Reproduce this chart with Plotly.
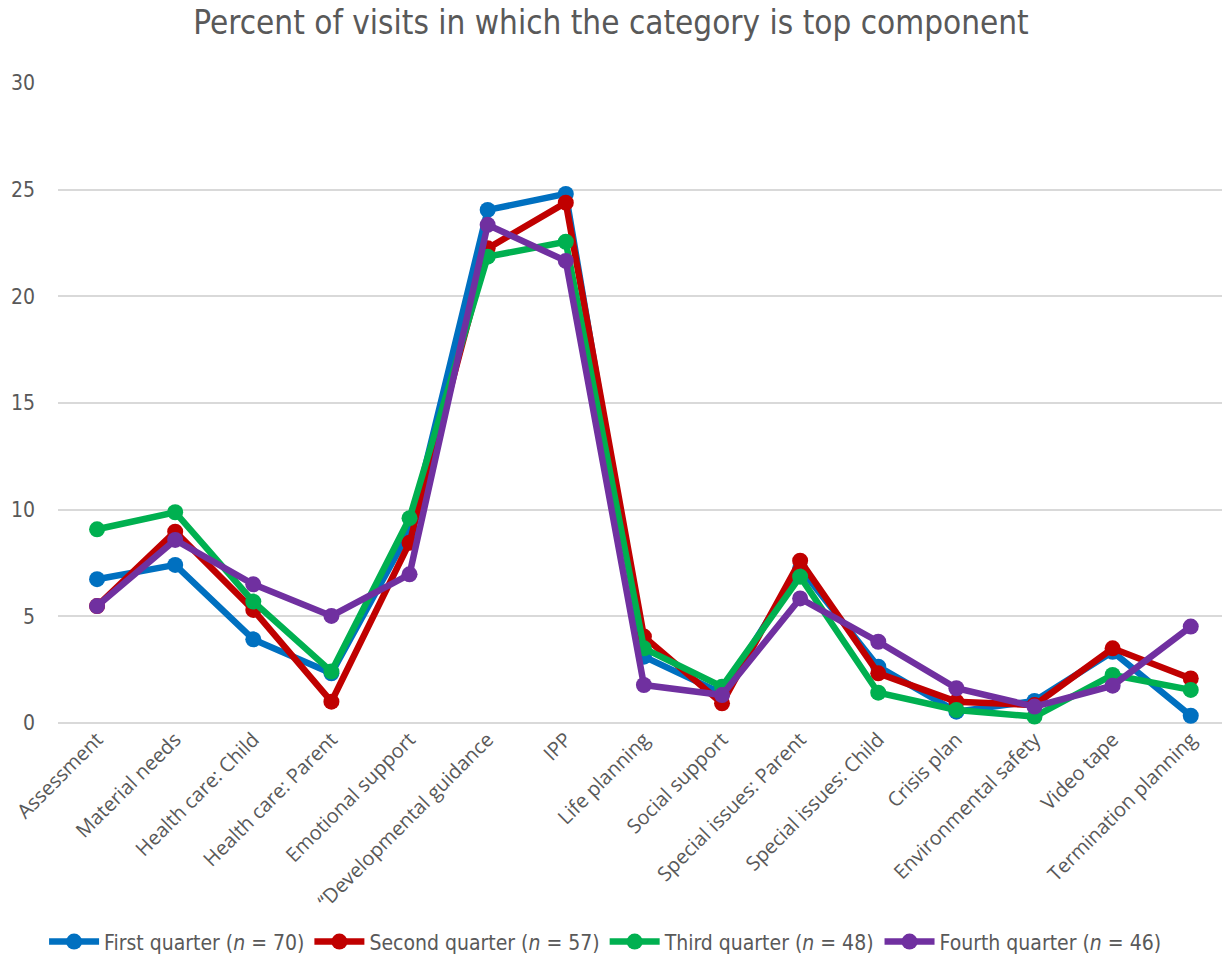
import plotly.graph_objects as go

categories = ["Assessment", "Material needs", "Health care: Child", "Health care: Parent",
              "Emotional support", "\u201cDevelopmental guidance", "IPP", "Life planning",
              "Social support", "Special issues: Parent", "Special issues: Child",
              "Crisis plan", "Environmental safety", "Video tape", "Termination planning"]

first_q  = [6.74, 7.41, 3.92, 2.33, 9.0, 24.05, 24.8, 3.11, 1.39, 7.25, 2.64, 0.53, 1.03, 3.34, 0.34]
second_q = [5.48, 8.97, 5.30, 1.00, 8.45, 22.25, 24.39, 4.05, 0.92, 7.61, 2.33, 1.00, 0.84, 3.50, 2.09]
third_q  = [9.08, 9.88, 5.69, 2.41, 9.60, 21.86, 22.56, 3.50, 1.70, 6.86, 1.42, 0.61, 0.30, 2.25, 1.55]
fourth_q = [5.48, 8.58, 6.50, 5.02, 6.97, 23.35, 21.66, 1.78, 1.31, 5.84, 3.81, 1.63, 0.77, 1.75, 4.52]

series_names = ["First quarter (<i>n</i> = 70)", "Second quarter (<i>n</i> = 57)",
                "Third quarter (<i>n</i> = 48)", "Fourth quarter (<i>n</i> = 46)"]
series_values = [first_q, second_q, third_q, fourth_q]
colors = ["#0070C0", "#C00000", "#00B050", "#7030A0"]

y_ticks = [0, 5, 10, 15, 20, 25, 30]

narrow = "Liberation Sans Narrow, DejaVu Sans Condensed, Arial Narrow, sans-serif"

fig = go.Figure()
for name, vals, col in zip(series_names, series_values, colors):
    fig.add_trace(go.Scatter(
        x=categories, y=vals, name=name, mode="lines+markers",
        line=dict(color=col, width=6.5),
        marker=dict(color=col, size=16),
        cliponaxis=False,
    ))

fig.update_layout(
    width=1222, height=961,
    margin=dict(l=58, r=0, t=83, b=238, autoexpand=False),
    paper_bgcolor="white", plot_bgcolor="white",
    title=dict(text="Percent of visits in which the category is top component",
               x=0.5, xanchor="center", y=0.977, yanchor="middle",
               font=dict(family=narrow, size=33, color="#595959")),
    xaxis=dict(type="category", range=[-0.5, 14.4], tickangle=-45,
               showgrid=False, showline=False, ticks="",
               tickfont=dict(family="Open Sans, sans-serif", size=20, color="#595959")),
    yaxis=dict(range=[0, 30], tickvals=y_ticks, showgrid=True,
               gridcolor="#D9D9D9", gridwidth=1.5, zeroline=True,
               zerolinecolor="#D9D9D9", zerolinewidth=1.5, showline=False,
               ticks="", ticklabelstandoff=22,
               tickfont=dict(family=narrow, size=21, color="#595959")),
    legend=dict(orientation="h", x=0.47, xanchor="center", y=-0.31, yanchor="top",
                font=dict(family=narrow, size=21, color="#595959"),
                itemwidth=50, tracegroupgap=0),
    showlegend=True,
)

fig.write_html("out.html")
